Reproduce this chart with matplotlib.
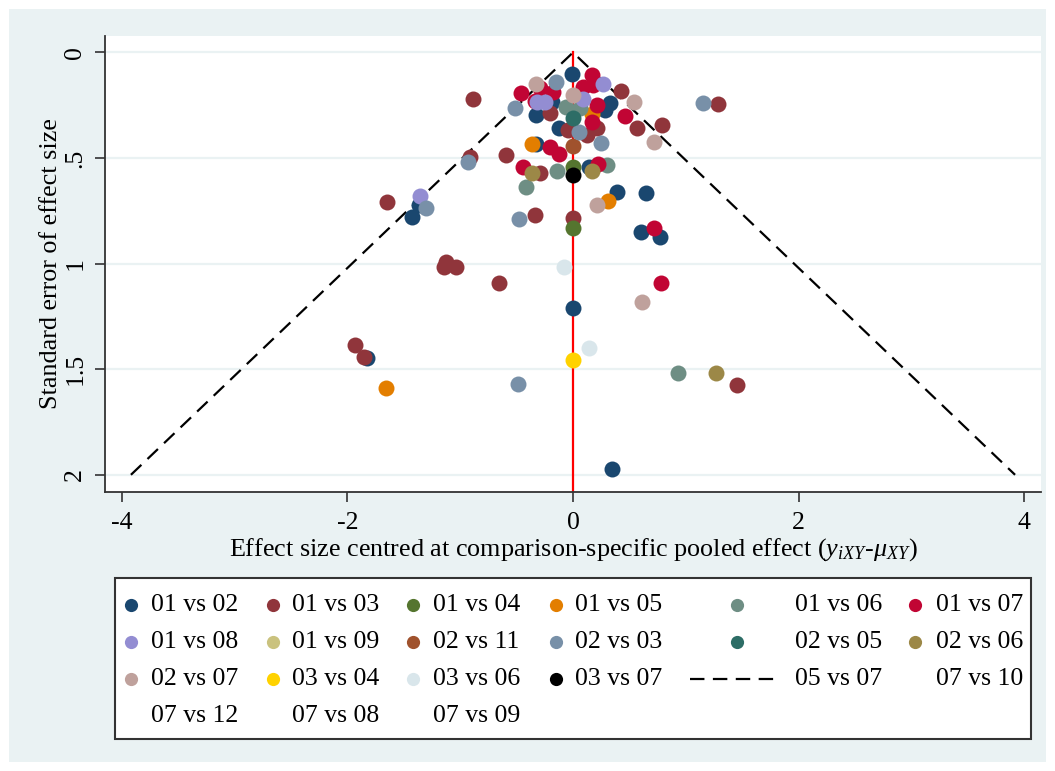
import matplotlib
matplotlib.use("Agg")
import matplotlib.pyplot as plt
from matplotlib.lines import Line2D
from matplotlib.patches import Rectangle

plt.rcParams['font.family'] = ['Liberation Serif', 'DejaVu Serif']
plt.rcParams['mathtext.fontset'] = 'custom'
plt.rcParams['mathtext.rm'] = 'Liberation Serif'
plt.rcParams['mathtext.it'] = 'Liberation Serif:italic'
plt.rcParams['axes.unicode_minus'] = False

# effect size centred at comparison-specific pooled effect (es) and its standard error (se)
es_01v02 = [-0.01, -0.19, 0.33, 0.28, -0.33, -0.12, -0.33, 0.14, 0.39, 0.65, 0.60, 0.77, -1.43, -1.37, 0.0, -1.83, 0.35]
se_01v02 = [0.10, 0.233, 0.241, 0.272, 0.296, 0.359, 0.434, 0.541, 0.66, 0.664, 0.849, 0.876, 0.778, 0.723, 1.212, 1.449, 1.974]
es_01v03 = [-0.89, 0.43, 0.57, 0.79, 1.29, -0.20, -0.04, 0.12, 0.21, -0.59, -0.91, -0.29, -1.65, -0.34, 0.0, -1.13, -1.14, -1.04, -0.66, -1.93, -1.85, 1.45]
se_01v03 = [0.22, 0.182, 0.359, 0.344, 0.244, 0.285, 0.367, 0.391, 0.359, 0.486, 0.494, 0.57, 0.707, 0.77, 0.786, 0.991, 1.018, 1.018, 1.094, 1.386, 1.442, 1.576]
es_01v04 = [0.0, 0.0]
se_01v04 = [0.544, 0.83]
es_01v05 = [0.17, -0.36, 0.31, -1.66]
se_01v05 = [0.293, 0.434, 0.702, 1.591]
es_01v06 = [-0.06, 0.06, -0.14, 0.30, -0.42, 0.93]
se_01v06 = [0.257, 0.264, 0.56, 0.533, 0.639, 1.518]
es_01v07 = [0.17, 0.09, 0.18, -0.46, -0.18, -0.29, -0.34, 0.21, 0.17, 0.46, -0.20, -0.12, -0.44, 0.22, 0.72, 0.78]
se_01v07 = [0.107, 0.162, 0.154, 0.192, 0.187, 0.168, 0.23, 0.249, 0.328, 0.301, 0.446, 0.481, 0.541, 0.53, 0.83, 1.094]
es_01v08 = [0.27, -0.32, -0.25, 0.09, -1.36]
se_01v08 = [0.149, 0.236, 0.236, 0.22, 0.68]
es_01v09 = []
se_01v09 = []
es_02v11 = [0.0]
se_02v11 = [0.443]
es_02v03 = [-0.15, -0.51, 0.05, 0.25, -0.93, -1.30, -0.48, 1.15, -0.49]
se_02v03 = [0.138, 0.262, 0.375, 0.427, 0.517, 0.738, 0.79, 0.239, 1.571]
es_02v05 = [0.0]
se_02v05 = [0.312]
es_02v06 = [-0.36, 0.17, 1.27]
se_02v06 = [0.57, 0.56, 1.518]
es_02v07 = [-0.33, 0.0, 0.54, 0.72, 0.21, 0.61]
se_02v07 = [0.149, 0.201, 0.233, 0.423, 0.723, 1.184]
es_03v04 = [0.0]
se_03v04 = [1.457]
es_03v06 = [-0.08, 0.14]
se_03v06 = [1.015, 1.399]
es_03v07 = [0.0]
se_03v07 = [0.581]

legend_labels = ['01 vs 02', '01 vs 03', '01 vs 04', '01 vs 05', '01 vs 06', '01 vs 07',
                 '01 vs 08', '01 vs 09', '02 vs 11', '02 vs 03', '02 vs 05', '02 vs 06',
                 '02 vs 07', '03 vs 04', '03 vs 06', '03 vs 07', '05 vs 07', '07 vs 10',
                 '07 vs 12', '07 vs 08', '07 vs 09']

colors = ['#1A476F', '#90353B', '#55752F', '#E37E00', '#6E8E84', '#C10534',
          '#938DD2', '#CAC27E', '#A0522D', '#7890A8', '#2D6D66', '#9C8847',
          '#BFA19C', '#FFD200', '#D9E6EB', '#000000']

series = [(es_01v02, se_01v02), (es_01v03, se_01v03), (es_01v04, se_01v04), (es_01v05, se_01v05),
          (es_01v06, se_01v06), (es_01v07, se_01v07), (es_01v08, se_01v08), (es_01v09, se_01v09),
          (es_02v11, se_02v11), (es_02v03, se_02v03), (es_02v05, se_02v05), (es_02v06, se_02v06),
          (es_02v07, se_02v07), (es_03v04, se_03v04), (es_03v06, se_03v06), (es_03v07, se_03v07)]

se_max = 2.0
bg = '#EAF2F3'

fig = plt.figure(figsize=(10.55, 7.71), dpi=100)
fig.patch.set_facecolor('white')
fig.patches.append(Rectangle((9 / 1055, 9 / 771), 1037 / 1055, 753 / 771, transform=fig.transFigure,
                             facecolor=bg, edgecolor='none', zorder=-10))

ax = fig.add_axes([105 / 1055, 1 - 491.7 / 771, 936 / 1055, 455.7 / 771])
ax.set_facecolor('white')

for y in [0, 0.5, 1, 1.5, 2]:
    ax.axhline(y, color=bg, lw=1.6, zorder=0)

# pseudo 95% CI funnel and zero line
ax.plot([-1.96 * se_max, 0, 1.96 * se_max], [se_max, 0, se_max], color='black', lw=1.6,
        dashes=(6.5, 3.8), zorder=1)
ax.plot([0, 0], [0, 2.08], color='red', lw=1.6, zorder=1)

for (es, se), c in zip(series, colors):
    ax.plot(es, se, 'o', color=c, ms=11.5, mec='none', zorder=3)

ax.set_xlim(-4.15, 4.15)
ax.set_ylim(2.08, -0.078)
ax.set_xticks([-4, -2, 0, 2, 4])
ax.set_xticklabels(['-4', '-2', '0', '2', '4'])
ax.set_yticks([0, 0.5, 1, 1.5, 2])
ax.set_yticklabels(['0', '.5', '1', '1.5', '2'], rotation=90, va='center')
ax.tick_params(axis='both', length=7.5, width=1.2, labelsize=18.5, color='#333333')
ax.tick_params(axis='x', pad=7)
ax.tick_params(axis='y', pad=6)
for s in ['top', 'right']:
    ax.spines[s].set_visible(False)
for s in ['left', 'bottom']:
    ax.spines[s].set_linewidth(1.3)
    ax.spines[s].set_color('#333333')

ax.set_ylabel('Standard error of effect size', fontsize=18.8)
ax.yaxis.set_label_coords(-0.046, 0.5)
ax.set_xlabel(r'Effect size centred at comparison-specific pooled effect ($y_{iXY}$-$\mu_{XY}$)',
              fontsize=18.8)
ax.xaxis.set_label_coords(0.5, -0.126)
ax.xaxis.label.set_va('center')

# legend box, laid out row by row as in the original
W, H = 1055.0, 771.0
fig.patches.append(Rectangle((115 / W, 1 - 739 / H), 916 / W, 161 / H, transform=fig.transFigure,
                             facecolor='white', edgecolor='#333333', lw=1.5, zorder=1))
marker_x = [131, 273, 413, 556, 737, 915]
text_x = [151, 292, 433, 575, 795, 936]
row_y = [605, 642, 679, 716]
for i, lab in enumerate(legend_labels):
    r, c = divmod(i, 6)
    yy = 1 - row_y[r] / H
    if i < len(colors):
        fig.add_artist(Line2D([marker_x[c] / W], [yy], marker='o', ms=9.5, color=colors[i],
                              mec='none', transform=fig.transFigure, zorder=2))
    elif lab == '05 vs 07':
        fig.add_artist(Line2D([690 / W, 776 / W], [yy, yy], color='black', lw=1.6, dashes=(6.5, 3.8),
                              transform=fig.transFigure, zorder=2))
    fig.text(text_x[c] / W, yy, lab, fontsize=18.5, va='center', ha='left', zorder=2)

fig.savefig('out.png', dpi=100, facecolor=fig.get_facecolor())
